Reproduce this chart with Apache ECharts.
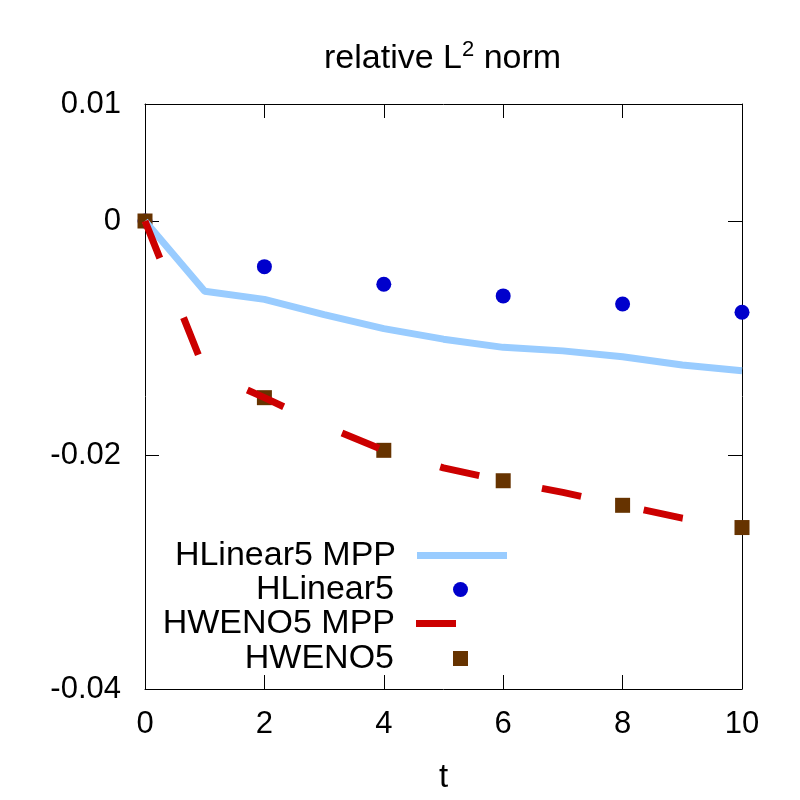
<!DOCTYPE html>
<html>
<head>
<meta charset="utf-8">
<script src="https://cdn.jsdelivr.net/npm/echarts@6/dist/echarts.min.js"></script>
<style>
  html, body { margin: 0; padding: 0; background: #fff; }
  #chart { width: 800px; height: 800px; }
</style>
</head>
<body>
<div id="chart"></div>
<script>
// time samples
const tAll = [0, 1, 2, 3, 4, 5, 6, 7, 8, 9, 10]
const tEven = [0, 2, 4, 6, 8, 10]

// relative L2 norm values
const hlinearMpp = [0, -0.0060, -0.0067, -0.0080, -0.0092, -0.0101, -0.0108, -0.0111, -0.0116, -0.0123, -0.0128]
const hlinear = [0, -0.0039, -0.0054, -0.0064, -0.0071, -0.0078]
const hwenoMpp = [0, -0.0128, -0.0151, -0.0175, -0.0196, -0.0211, -0.0222, -0.0232, -0.0243, -0.0254, -0.0262]
const hweno = [0, -0.0151, -0.0196, -0.0222, -0.0243, -0.0262]

// tick labels
const yLabelValues = [-0.04, -0.02, 0, 0.01]
const yTickValues = [-0.02, 0]

const font = 'Liberation Sans'
const pair = (xs, ys) => xs.map((x, i) => [x, ys[i]])

const chart = echarts.init(document.getElementById('chart'), null, { renderer: 'canvas' })

const axisLine = { show: true, onZero: false, lineStyle: { color: '#000', width: 1 } }
const tick = { show: true, inside: true, length: 14, lineStyle: { color: '#000', width: 1 } }

// gnuplot-like key: text on the left, sample on the right
const keyEntry = (name, icon, w, h, right, top, pad) => ({
  orient: 'vertical',
  align: 'right',
  right,
  top,
  icon,
  itemWidth: w,
  itemHeight: h,
  selectedMode: false,
  textStyle: { fontFamily: font, fontSize: 34, color: '#000', lineHeight: 35, padding: [0, pad, 0, 0] },
  data: [name]
})

chart.setOption({
  animation: false,
  backgroundColor: '#fff',
  title: {
    text: 'relative L{sup|2} norm',
    left: 319,
    top: 34,
    textStyle: {
      fontFamily: font,
      fontSize: 34,
      fontWeight: 'normal',
      color: '#000',
      lineHeight: 40,
      rich: {
        sup: { fontFamily: font, fontSize: 22, verticalAlign: 'top', lineHeight: 22, color: '#000' }
      }
    }
  },
  grid: { left: 145, right: 58, top: 104, bottom: 111 },
  legend: [
    keyEntry('HLinear5 MPP', 'rect', 90, 7, 288, 533, 16),
    keyEntry('HLinear5', 'circle', 15, 15, 327, 567, 54),
    keyEntry('HWENO5 MPP', 'rect', 40, 7, 339, 601, 16),
    keyEntry('HWENO5', 'rect', 15, 15, 327, 636, 54)
  ],
  xAxis: [
    {
      type: 'value',
      min: 0,
      max: 10,
      interval: 2,
      position: 'bottom',
      name: 't',
      nameLocation: 'middle',
      nameGap: 72,
      nameTextStyle: { fontFamily: font, fontSize: 33, color: '#000' },
      axisLine,
      axisTick: tick,
      axisLabel: { fontFamily: font, fontSize: 31, color: '#000', margin: 20 },
      splitLine: { show: false }
    },
    {
      type: 'value',
      min: 0,
      max: 10,
      interval: 2,
      position: 'top',
      axisLine,
      axisTick: tick,
      axisLabel: { show: false },
      splitLine: { show: false }
    }
  ],
  yAxis: [
    {
      type: 'value',
      min: -0.04,
      max: 0.01,
      interval: 0.01,
      position: 'left',
      axisLine,
      axisTick: Object.assign({}, tick, { customValues: yTickValues }),
      axisLabel: {
        fontFamily: font,
        fontSize: 31,
        color: '#000',
        margin: 24,
        customValues: yLabelValues,
        formatter: v => String(+v.toFixed(2))
      },
      splitLine: { show: false }
    },
    {
      type: 'value',
      min: -0.04,
      max: 0.01,
      interval: 0.01,
      position: 'right',
      axisLine,
      axisTick: Object.assign({}, tick, { customValues: yTickValues }),
      axisLabel: { show: false },
      splitLine: { show: false }
    }
  ],
  series: [
    {
      name: 'HLinear5 MPP',
      type: 'line',
      data: pair(tAll, hlinearMpp),
      symbol: 'none',
      color: '#99ccff',
      lineStyle: { color: '#99ccff', width: 7 }
    },
    {
      name: 'HLinear5',
      type: 'scatter',
      data: pair(tEven, hlinear),
      symbol: 'circle',
      symbolSize: 15,
      clip: false,
      itemStyle: { color: '#0000cc', opacity: 1 }
    },
    {
      name: 'HWENO5 MPP',
      type: 'line',
      data: pair(tAll, hwenoMpp),
      symbol: 'none',
      color: '#cc0000',
      lineStyle: { color: '#cc0000', width: 7, type: [40, 64], cap: 'butt' }
    },
    {
      name: 'HWENO5',
      type: 'scatter',
      data: pair(tEven, hweno),
      symbol: 'rect',
      symbolSize: 15,
      clip: false,
      itemStyle: { color: '#663300', opacity: 1 }
    }
  ]
})
</script>
</body>
</html>
